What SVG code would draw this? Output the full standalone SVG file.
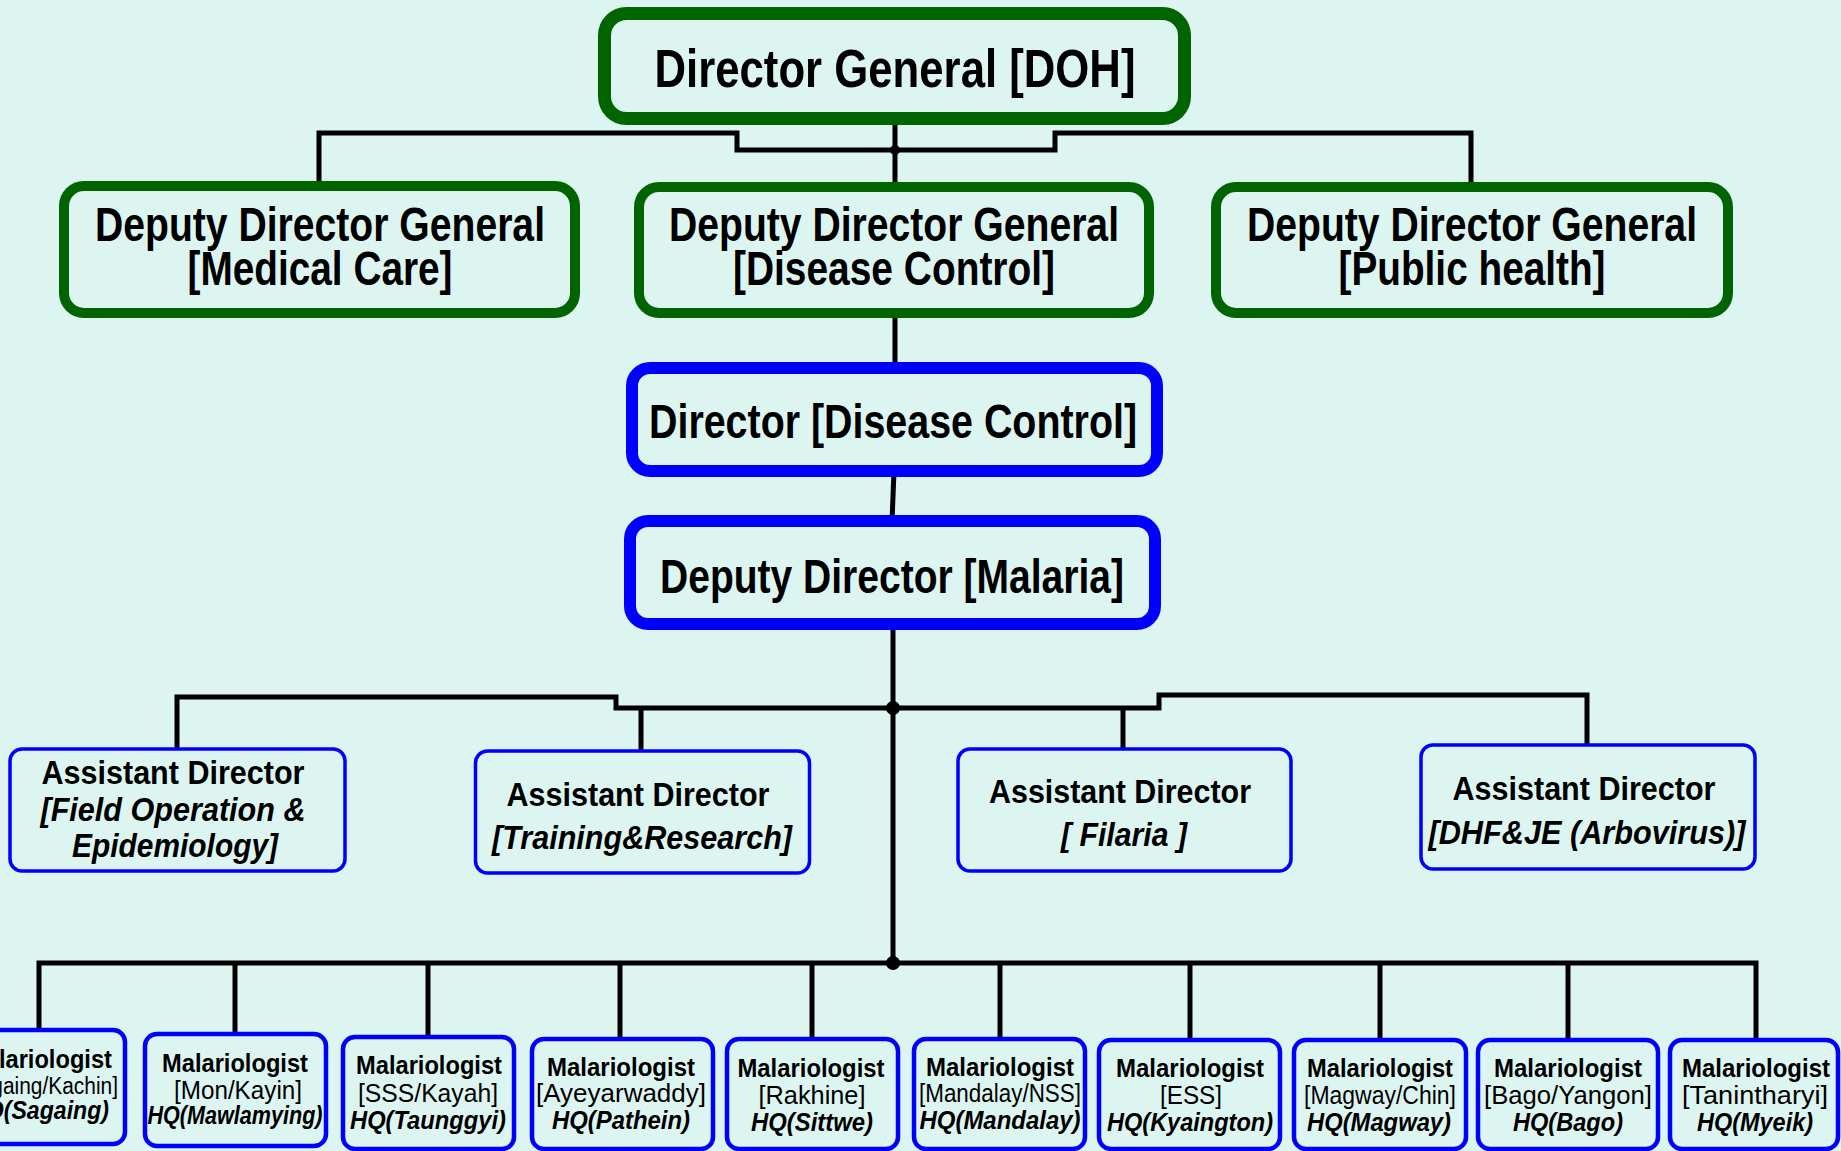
<svg xmlns="http://www.w3.org/2000/svg" width="1841" height="1151" viewBox="0 0 1841 1151">
<style>
.t{font-family:"Liberation Sans Narrow","Arial Narrow","Liberation Sans",Arial,sans-serif;text-anchor:middle;fill:#000}
.b{font-weight:bold}
.bi{font-weight:bold;font-style:italic}
.r{font-weight:normal}
.m{font-size:26px}
.a{font-size:33px}
.g1{fill:#ddf5f0;stroke:#006400;stroke-width:13}
.g2{fill:#ddf5f0;stroke:#006400;stroke-width:10}
.bl{fill:#ddf5f0;stroke:#0000ff;stroke-width:12}
.ad{fill:#ddf5f0;stroke:#0000ff;stroke-width:3.5}
.ml{fill:#ddf5f0;stroke:#0000ff;stroke-width:4.5}
.c{fill:none;stroke:#000;stroke-width:5}
.d{fill:#000}
</style>
<rect x="0" y="0" width="1841" height="1151" fill="#ddf5f0"/>
<g id="connectors">
<path class="c" d="M895 119 V188"/>
<path class="c" d="M319 188 V133 H737 V150 H1055 V133 H1471 V188"/>
<circle class="d" cx="895" cy="150" r="5"/>
<path class="c" d="M895 313 V369"/>
<path class="c" d="M894 471 L892 522"/>
<path class="c" d="M893 624 V963"/>
<path class="c" d="M177 749 V697 H616 V708 H1159 V695 H1587 V745"/>
<path class="c" d="M641 708 V751"/>
<path class="c" d="M1123 708 V749"/>
<circle class="d" cx="893" cy="708" r="7"/>
<path class="c" d="M39 1030 V963 H1756 V1040"/>
<path class="c" d="M235 963 V1034"/>
<path class="c" d="M428 963 V1037"/>
<path class="c" d="M620 963 V1039"/>
<path class="c" d="M812 963 V1039"/>
<path class="c" d="M1000 963 V1039"/>
<path class="c" d="M1190 963 V1040"/>
<path class="c" d="M1380 963 V1040"/>
<path class="c" d="M1568 963 V1040"/>
<circle class="d" cx="893" cy="963" r="7"/>
</g>
<g id="dg">
<rect class="g1" x="604.5" y="13.5" width="580" height="105" rx="22"/>
<text class="t b" x="895" y="87" font-size="54" textLength="481" lengthAdjust="spacingAndGlyphs">Director General [DOH]</text>
</g>
<g id="ddg-medical">
<rect class="g2" x="64" y="186" width="511" height="127" rx="20"/>
<text class="t b" x="320" y="241" font-size="49" textLength="450" lengthAdjust="spacingAndGlyphs">Deputy Director General</text>
<text class="t b" x="320" y="285" font-size="49" textLength="265" lengthAdjust="spacingAndGlyphs">[Medical Care]</text>
</g>
<g id="ddg-disease">
<rect class="g2" x="639" y="187" width="510" height="126" rx="20"/>
<text class="t b" x="894" y="241" font-size="49" textLength="450" lengthAdjust="spacingAndGlyphs">Deputy Director General</text>
<text class="t b" x="894" y="285" font-size="49" textLength="322" lengthAdjust="spacingAndGlyphs">[Disease Control]</text>
</g>
<g id="ddg-public">
<rect class="g2" x="1216" y="187" width="512" height="126" rx="20"/>
<text class="t b" x="1472" y="241" font-size="49" textLength="450" lengthAdjust="spacingAndGlyphs">Deputy Director General</text>
<text class="t b" x="1472" y="285" font-size="49" textLength="267" lengthAdjust="spacingAndGlyphs">[Public health]</text>
</g>
<g id="director-dc">
<rect class="bl" x="632" y="368" width="525" height="103" rx="18"/>
<text class="t b" x="893" y="438" font-size="48" textLength="488" lengthAdjust="spacingAndGlyphs">Director [Disease Control]</text>
</g>
<g id="dd-malaria">
<rect class="bl" x="630" y="521" width="525" height="103" rx="18"/>
<text class="t b" x="892" y="593" font-size="49" textLength="464" lengthAdjust="spacingAndGlyphs">Deputy Director [Malaria]</text>
</g>
<g id="ad-field">
<rect class="ad" x="10" y="749" width="335" height="122" rx="12"/>
<text class="t b a" x="173" y="784" textLength="263" lengthAdjust="spacingAndGlyphs">Assistant Director</text>
<text class="t bi a" x="173" y="821" textLength="265" lengthAdjust="spacingAndGlyphs">[Field Operation &amp;</text>
<text class="t bi a" x="175" y="857" textLength="206" lengthAdjust="spacingAndGlyphs">Epidemiology]</text>
</g>
<g id="ad-training">
<rect class="ad" x="475.5" y="751" width="334" height="122" rx="12"/>
<text class="t b a" x="638" y="806" textLength="263" lengthAdjust="spacingAndGlyphs">Assistant Director</text>
<text class="t bi a" x="642" y="849" textLength="300" lengthAdjust="spacingAndGlyphs">[Training&amp;Research]</text>
</g>
<g id="ad-filaria">
<rect class="ad" x="958" y="749" width="333" height="122" rx="12"/>
<text class="t b a" x="1120" y="803" textLength="262" lengthAdjust="spacingAndGlyphs">Assistant Director</text>
<text class="t bi a" x="1124" y="846" textLength="126" lengthAdjust="spacingAndGlyphs">[ Filaria ]</text>
</g>
<g id="ad-dhf">
<rect class="ad" x="1421" y="745" width="334" height="124" rx="12"/>
<text class="t b a" x="1584" y="800" textLength="263" lengthAdjust="spacingAndGlyphs">Assistant Director</text>
<text class="t bi a" x="1587" y="844" textLength="317" lengthAdjust="spacingAndGlyphs">[DHF&amp;JE (Arbovirus)]</text>
</g>
<g id="m1">
<rect class="ml" x="-48" y="1030" width="173" height="114" rx="12"/>
<text class="t b m" x="39" y="1068" textLength="146" lengthAdjust="spacingAndGlyphs">Malariologist</text>
<text class="t r" x="39" y="1094" font-size="23" textLength="158" lengthAdjust="spacingAndGlyphs">[Sagaing/Kachin]</text>
<text class="t bi m" x="39" y="1119" textLength="140" lengthAdjust="spacingAndGlyphs">HQ(Sagaing)</text>
</g>
<g id="m2">
<rect class="ml" x="145" y="1034" width="181" height="112" rx="12"/>
<text class="t b m" x="235" y="1072" textLength="146" lengthAdjust="spacingAndGlyphs">Malariologist</text>
<text class="t r m" x="238" y="1099" textLength="128" lengthAdjust="spacingAndGlyphs">[Mon/Kayin]</text>
<text class="t bi" x="235" y="1124" font-size="25" textLength="175" lengthAdjust="spacingAndGlyphs">HQ(Mawlamying)</text>
</g>
<g id="m3">
<rect class="ml" x="343" y="1037" width="171" height="112" rx="12"/>
<text class="t b m" x="429" y="1074" textLength="146" lengthAdjust="spacingAndGlyphs">Malariologist</text>
<text class="t r m" x="428" y="1102" textLength="140" lengthAdjust="spacingAndGlyphs">[SSS/Kayah]</text>
<text class="t bi m" x="428" y="1129" textLength="156" lengthAdjust="spacingAndGlyphs">HQ(Taunggyi)</text>
</g>
<g id="m4">
<rect class="ml" x="532" y="1039" width="181" height="110" rx="12"/>
<text class="t b m" x="621" y="1076" textLength="148" lengthAdjust="spacingAndGlyphs">Malariologist</text>
<text class="t r m" x="621" y="1102" textLength="170" lengthAdjust="spacingAndGlyphs">[Ayeyarwaddy]</text>
<text class="t bi m" x="621" y="1129" textLength="138" lengthAdjust="spacingAndGlyphs">HQ(Pathein)</text>
</g>
<g id="m5">
<rect class="ml" x="727" y="1039" width="171" height="110" rx="12"/>
<text class="t b m" x="811" y="1077" textLength="147" lengthAdjust="spacingAndGlyphs">Malariologist</text>
<text class="t r m" x="812" y="1104" textLength="107" lengthAdjust="spacingAndGlyphs">[Rakhine]</text>
<text class="t bi m" x="812" y="1131" textLength="122" lengthAdjust="spacingAndGlyphs">HQ(Sittwe)</text>
</g>
<g id="m6">
<rect class="ml" x="914" y="1039" width="171" height="110" rx="12"/>
<text class="t b m" x="1000" y="1076" textLength="148" lengthAdjust="spacingAndGlyphs">Malariologist</text>
<text class="t r" x="1000" y="1102" font-size="25" textLength="162" lengthAdjust="spacingAndGlyphs">[Mandalay/NSS]</text>
<text class="t bi m" x="1000" y="1129" textLength="161" lengthAdjust="spacingAndGlyphs">HQ(Mandalay)</text>
</g>
<g id="m7">
<rect class="ml" x="1099" y="1040" width="181" height="109" rx="12"/>
<text class="t b m" x="1190" y="1077" textLength="148" lengthAdjust="spacingAndGlyphs">Malariologist</text>
<text class="t r m" x="1191" y="1104" textLength="62" lengthAdjust="spacingAndGlyphs">[ESS]</text>
<text class="t bi m" x="1190" y="1131" textLength="166" lengthAdjust="spacingAndGlyphs">HQ(Kyaington)</text>
</g>
<g id="m8">
<rect class="ml" x="1294" y="1040" width="172" height="109" rx="12"/>
<text class="t b m" x="1380" y="1077" textLength="146" lengthAdjust="spacingAndGlyphs">Malariologist</text>
<text class="t r m" x="1380" y="1104" textLength="152" lengthAdjust="spacingAndGlyphs">[Magway/Chin]</text>
<text class="t bi m" x="1379" y="1131" textLength="144" lengthAdjust="spacingAndGlyphs">HQ(Magway)</text>
</g>
<g id="m9">
<rect class="ml" x="1478" y="1040" width="180" height="109" rx="12"/>
<text class="t b m" x="1568" y="1077" textLength="148" lengthAdjust="spacingAndGlyphs">Malariologist</text>
<text class="t r m" x="1568" y="1104" textLength="168" lengthAdjust="spacingAndGlyphs">[Bago/Yangon]</text>
<text class="t bi m" x="1568" y="1131" textLength="110" lengthAdjust="spacingAndGlyphs">HQ(Bago)</text>
</g>
<g id="m10">
<rect class="ml" x="1670" y="1040" width="168" height="109" rx="12"/>
<text class="t b m" x="1756" y="1077" textLength="148" lengthAdjust="spacingAndGlyphs">Malariologist</text>
<text class="t r m" x="1755" y="1104" textLength="146" lengthAdjust="spacingAndGlyphs">[Tanintharyi]</text>
<text class="t bi m" x="1755" y="1131" textLength="116" lengthAdjust="spacingAndGlyphs">HQ(Myeik)</text>
</g>
</svg>
